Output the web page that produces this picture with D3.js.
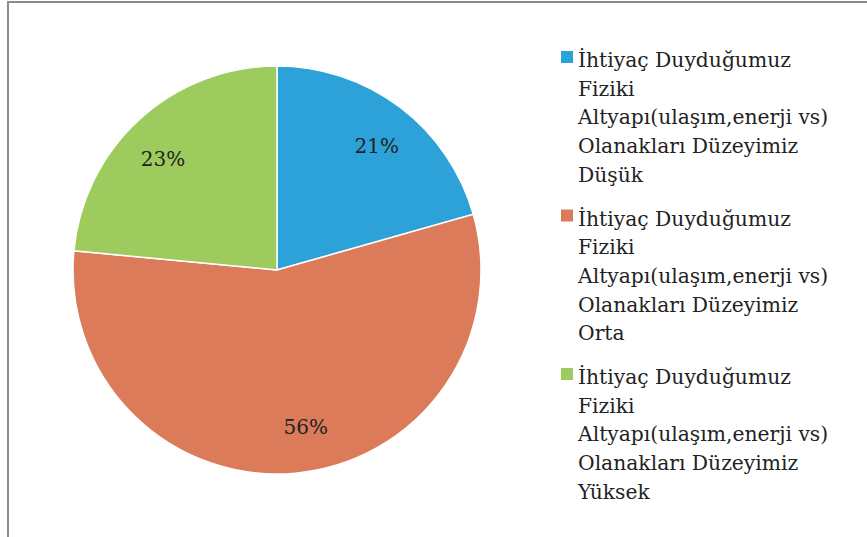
<!DOCTYPE html>
<html>
<head>
<meta charset="utf-8">
<script src="https://cdn.jsdelivr.net/npm/d3@7"></script>
<style>
  body { margin: 0; background: #fff; }
  svg { display: block; }
</style>
</head>
<body>
<div id="app"></div>
<script>
const categories = [
  "İhtiyaç Duyduğumuz Fiziki Altyapı(ulaşım,enerji vs) Olanakları Düzeyimiz Düşük",
  "İhtiyaç Duyduğumuz Fiziki Altyapı(ulaşım,enerji vs) Olanakları Düzeyimiz Orta",
  "İhtiyaç Duyduğumuz Fiziki Altyapı(ulaşım,enerji vs) Olanakları Düzeyimiz Yüksek"
];
const values = [20.6, 55.9, 23.5];
const labels = ["21%", "56%", "23%"];
const legendLines = [
  ["İhtiyaç Duyduğumuz", "Fiziki", "Altyapı(ulaşım,enerji vs)", "Olanakları Düzeyimiz", "Düşük"],
  ["İhtiyaç Duyduğumuz", "Fiziki", "Altyapı(ulaşım,enerji vs)", "Olanakları Düzeyimiz", "Orta"],
  ["İhtiyaç Duyduğumuz", "Fiziki", "Altyapı(ulaşım,enerji vs)", "Olanakları Düzeyimiz", "Yüksek"]
];
const colors = ["#2ca2d8", "#dc7b5a", "#9dcb5e"];

const width = 867, height = 537;
const font = "'DejaVu Serif', serif";

const svg = d3.select("#app")
  .append("svg")
  .attr("width", width)
  .attr("height", height);

// frame (only top and left edges are visible)
svg.append("line")
  .attr("x1", 8).attr("x2", width).attr("y1", 2).attr("y2", 2)
  .attr("stroke", "#8c8c8c").attr("stroke-width", 2);
svg.append("line")
  .attr("x1", 8).attr("x2", 8).attr("y1", 1).attr("y2", height)
  .attr("stroke", "#8c8c8c").attr("stroke-width", 2);

const cx = 277, cy = 270, radius = 204;

const pie = d3.pie().sort(null).value((d) => d);
const arcs = pie(values);
const arc = d3.arc().innerRadius(0).outerRadius(radius);

// Excel "best fit" nudges the labels a little off the mid-angle
const labelShift = [0.03, -0.09, -0.06];
const labelPos = (d, i) => {
  const a = (d.startAngle + d.endAngle) / 2 + labelShift[i];
  const r = radius * 0.78;
  return [Math.sin(a) * r, -Math.cos(a) * r];
};

const g = svg.append("g").attr("transform", `translate(${cx},${cy})`);

g.selectAll("path")
  .data(arcs)
  .enter()
  .append("path")
  .attr("d", arc)
  .attr("fill", (d, i) => colors[i])
  .attr("stroke", "#fff")
  .attr("stroke-width", 1.5);

g.selectAll("text")
  .data(arcs)
  .enter()
  .append("text")
  .attr("transform", (d, i) => `translate(${labelPos(d, i)})`)
  .attr("text-anchor", "middle")
  .attr("dy", "0.35em")
  .attr("font-family", font)
  .attr("font-size", 20)
  .attr("fill", "#222")
  .text((d, i) => labels[i]);

// legend
const legendX = 561, legendTop = 60, lineGap = 28.7, itemGap = 158.5;
const legend = svg.append("g");

legendLines.forEach((lines, i) => {
  const y0 = legendTop + i * itemGap;
  legend.append("rect")
    .attr("x", legendX).attr("y", y0 - 9)
    .attr("width", 12).attr("height", 12)
    .attr("fill", colors[i]);
  const t = legend.append("text")
    .attr("x", legendX + 17)
    .attr("y", y0 + 7)
    .attr("font-family", font)
    .attr("font-size", 20.3)
    .attr("fill", "#222");
  t.selectAll("tspan")
    .data(lines)
    .enter()
    .append("tspan")
    .attr("x", legendX + 17)
    .attr("dy", (d, j) => (j === 0 ? 0 : lineGap))
    .text((d) => d);
});
</script>
</body>
</html>
